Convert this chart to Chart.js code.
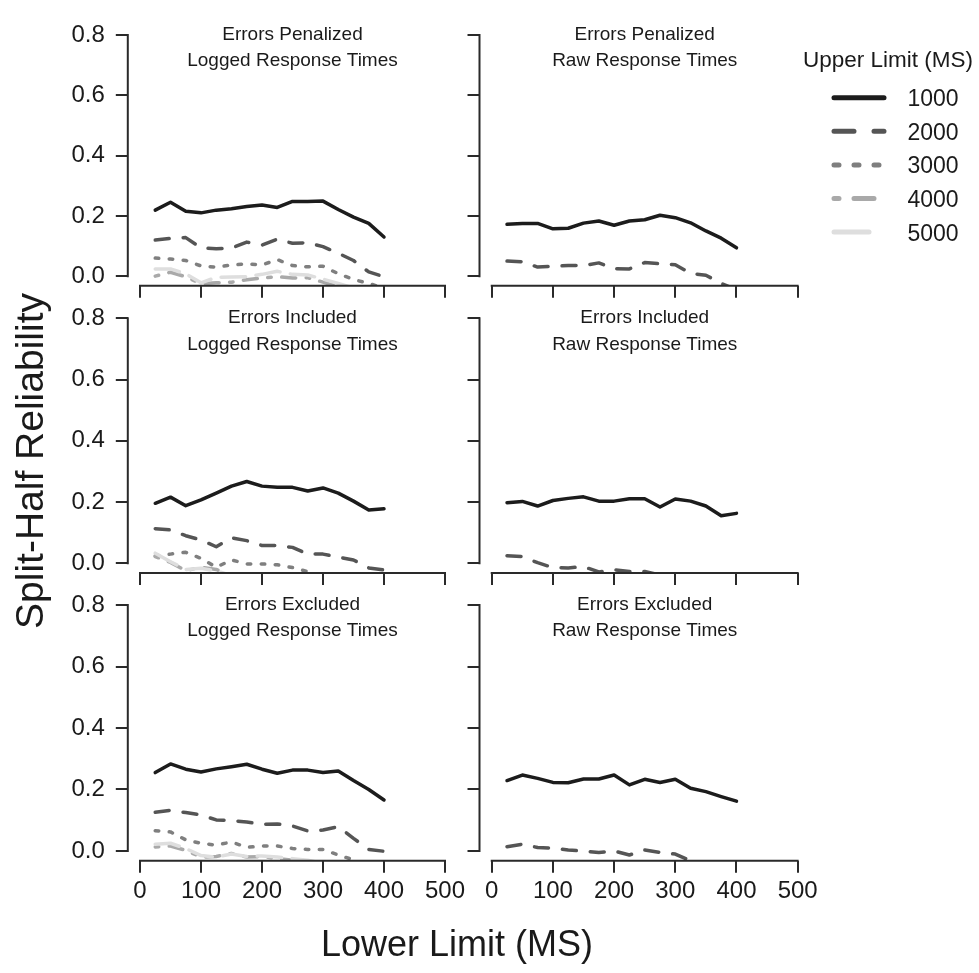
<!DOCTYPE html>
<html lang="en">
  <head>
    <meta charset="UTF-8" />
    <title>Split-Half Reliability by Lower and Upper Limit</title>
    <script src="https://cdn.jsdelivr.net/npm/chart.js@4.4.1/dist/chart.umd.min.js"></script>
    <style>
      html,
      body {
        margin: 0;
        padding: 0;
        background: #fff;
      }
      #wrap {
        position: relative;
        width: 979px;
        height: 973px;
      }
      #wrap canvas {
        position: absolute;
        left: 0;
        top: 0;
      }
    </style>
  </head>
  <body>
    <div id="wrap"></div>

    <script>
      // lower limit (ms) of each point, same for every line
      const lowerLimits = [25, 50, 75, 100, 125, 150, 175, 200, 225, 250, 275, 300, 325, 350, 375, 400];
      const upperLimits = ["1000", "2000", "3000", "4000", "5000"];
      const xTicks = [0, 100, 200, 300, 400, 500];
      const yTicks = [0, 0.2, 0.4, 0.6, 0.8];
      const errorTitles = ["Errors Penalized", "Errors Included", "Errors Excluded"];
      const rtTitles = ["Logged Response Times", "Raw Response Times"];

      // one row per upper limit; null once the line has dropped out of the panel
      const penalizedLogged = [
        [0.219, 0.245, 0.215, 0.21, 0.219, 0.224, 0.231, 0.236, 0.228, 0.248, 0.248, 0.249, 0.221, 0.196, 0.175, 0.13],
        [0.12, 0.125, 0.128, 0.094, 0.091, 0.093, 0.113, 0.103, 0.123, 0.109, 0.111, 0.098, 0.076, 0.052, 0.014, -0.002],
        [0.06, 0.057, 0.052, 0.034, 0.03, 0.037, 0.041, 0.037, 0.055, 0.035, 0.031, 0.033, 0.008, -0.011, -0.024, -0.04],
        [0.0, 0.013, -0.002, -0.025, -0.022, -0.02, -0.012, -0.006, -0.002, -0.006, -0.005, -0.02, -0.035, -0.045, null, null],
        [0.024, 0.024, 0.008, -0.022, -0.004, -0.003, -0.002, 0.006, 0.016, 0.006, 0.004, -0.01, -0.024, -0.04, null, null],
      ];
      const penalizedRaw = [
        [0.172, 0.175, 0.175, 0.157, 0.159, 0.176, 0.183, 0.169, 0.183, 0.187, 0.202, 0.194, 0.177, 0.15, 0.126, 0.094],
        [0.05, 0.048, 0.03, 0.033, 0.035, 0.035, 0.044, 0.025, 0.024, 0.045, 0.041, 0.038, 0.009, 0.003, -0.024, -0.045],
      ];
      const includedLogged = [
        [0.196, 0.216, 0.188, 0.207, 0.229, 0.252, 0.267, 0.252, 0.248, 0.248, 0.236, 0.246, 0.229, 0.203, 0.174, 0.178],
        [0.113, 0.109, 0.09, 0.076, 0.054, 0.083, 0.074, 0.058, 0.058, 0.052, 0.03, 0.03, 0.02, 0.011, -0.015, -0.022],
        [0.024, 0.03, 0.036, 0.016, -0.013, 0.011, -0.002, -0.002, -0.005, -0.014, -0.027, -0.04, null, null, null, null],
        [0.022, 0.003, -0.024, -0.013, -0.02, -0.04, null, null, null, null, null, null, null, null, null, null],
        [0.033, 0.005, -0.02, -0.016, -0.025, -0.04, null, null, null, null, null, null, null, null, null, null],
      ];
      const includedRaw = [
        [0.198, 0.202, 0.187, 0.205, 0.212, 0.217, 0.203, 0.203, 0.211, 0.211, 0.184, 0.21, 0.203, 0.187, 0.155, 0.163],
        [0.025, 0.022, 0.002, -0.014, -0.015, -0.011, -0.028, -0.021, -0.027, -0.027, -0.038, null, null, null, null, null],
      ];
      const excludedLogged = [
        [0.255, 0.283, 0.266, 0.257, 0.267, 0.274, 0.282, 0.266, 0.253, 0.263, 0.263, 0.255, 0.26, 0.229, 0.2, 0.166],
        [0.126, 0.132, 0.125, 0.117, 0.101, 0.099, 0.094, 0.087, 0.088, 0.081, 0.065, 0.068, 0.079, 0.041, 0.005, -0.001],
        [0.066, 0.062, 0.036, 0.025, 0.019, 0.029, 0.012, 0.016, 0.016, 0.008, 0.005, 0.005, -0.013, -0.029, -0.045, null],
        [0.013, 0.016, 0.002, -0.02, -0.018, -0.008, -0.02, -0.018, -0.025, -0.03, -0.035, -0.04, null, null, null, null],
        [0.022, 0.025, 0.008, -0.015, -0.02, -0.01, -0.018, -0.016, -0.02, -0.025, -0.03, -0.04, null, null, null, null],
      ];
      const excludedRaw = [
        [0.229, 0.247, 0.236, 0.223, 0.222, 0.234, 0.234, 0.247, 0.215, 0.233, 0.223, 0.233, 0.204, 0.193, 0.177, 0.162],
        [0.014, 0.022, 0.011, 0.009, 0.003, 0.0, -0.005, 0.0, -0.013, 0.003, -0.005, -0.01, -0.032, -0.045, null, null],
      ];

      const panels = [
        [penalizedLogged, penalizedRaw],
        [includedLogged, includedRaw],
        [excludedLogged, excludedRaw],
      ];

      // look
      const FONT = "'Liberation Sans', Arial, Helvetica, sans-serif";
      const INK = "#1a1a1a";
      const AXIS = "#2a2a2a";
      const lineColors = ["#1c1c1c", "#555555", "#7f7f7f", "#a9a9a9", "#dedede"];
      const ltyUnits = [[], [4, 4], [1, 3], [1, 3, 4, 3], [7, 3]]; // R lty 1..5, in line widths
      const LW = 3.5;

      // plot regions in page pixels (R's region is 4% wider than the axis range)
      // YW / XH are the axis boxes; Chart.js clips tick labels to them
      const W = 979, H = 973, YW = 80, XH = 60;
      const colX = [[127.8, 457.2], [479.5, 809.9]];
      const rowY = [[20.9, 285.8], [308.5, 573.1], [595.2, 860.8]];

      const panelDecor = {
        id: "panelDecor",
        afterDraw(chart, args, opts) {
          const { ctx, chartArea, scales } = chart;
          ctx.save();
          ctx.strokeStyle = AXIS;
          ctx.lineWidth = 2;
          ctx.beginPath();
          ctx.moveTo(scales.x.getPixelForValue(xTicks[0]) - 1, chartArea.bottom);
          ctx.lineTo(scales.x.getPixelForValue(xTicks[xTicks.length - 1]) + 1, chartArea.bottom);
          ctx.moveTo(chartArea.left, scales.y.getPixelForValue(yTicks[0]) + 1);
          ctx.lineTo(chartArea.left, scales.y.getPixelForValue(yTicks[yTicks.length - 1]) - 1);
          ctx.stroke();

          ctx.fillStyle = INK;
          ctx.font = "19px " + FONT;
          ctx.textAlign = "center";
          const cx = (chartArea.left + chartArea.right) / 2;
          ctx.fillText(opts.lines[0], cx, chartArea.top + 14.5);
          ctx.fillText(opts.lines[1], cx, chartArea.top + 41);
          ctx.restore();
        },
      };

      // outer axis titles and the legend, drawn once on the first chart
      const figureText = {
        id: "figureText",
        afterDraw(chart) {
          const ctx = chart.ctx;
          ctx.save();
          ctx.fillStyle = INK;
          ctx.textAlign = "center";
          ctx.font = "36px " + FONT;
          ctx.fillText("Lower Limit (MS)", 457, 956);
          ctx.translate(43, 461);
          ctx.rotate(-Math.PI / 2);
          ctx.font = "39px " + FONT;
          ctx.fillText("Split-Half Reliability", 0, 0);
          ctx.restore();

          ctx.save();
          ctx.fillStyle = INK;
          ctx.textAlign = "left";
          ctx.font = "22.5px " + FONT;
          ctx.fillText("Upper Limit (MS)", 803, 67);
          ctx.font = "23px " + FONT;
          chart.data.datasets.forEach((ds, i) => {
            const y = 97.7 + i * 33.6;
            ctx.strokeStyle = ds.borderColor;
            ctx.lineWidth = 5;
            ctx.lineCap = "round";
            ctx.setLineDash(ltyUnits[i].map((u) => u * 5));
            ctx.beginPath();
            ctx.moveTo(834, y);
            ctx.lineTo(884, y);
            ctx.stroke();
            ctx.setLineDash([]);
            ctx.fillText(ds.label, 907.5, y + 8.5);
          });
          ctx.restore();
        },
      };

      const wrap = document.getElementById("wrap");

      panels.forEach((row, r) => {
        row.forEach((series, c) => {
          const canvas = document.createElement("canvas");
          canvas.width = W;
          canvas.height = H;
          wrap.appendChild(canvas);

          const [left, right] = colX[c];
          const [top, bottom] = rowY[r];
          const showX = r === panels.length - 1;
          const showY = c === 0;

          new Chart(canvas, {
            type: "line",
            data: {
              datasets: series.map((vals, i) => ({
                label: upperLimits[i],
                data: lowerLimits.map((x, j) => ({ x: x, y: vals[j] })),
                borderColor: lineColors[i],
                borderWidth: LW,
                borderDash: ltyUnits[i].map((u) => u * LW),
                borderCapStyle: "round",
                borderJoinStyle: "round",
                pointRadius: 0,
                fill: false,
                tension: 0,
                clip: 0,
                order: -i,
              })),
            },
            options: {
              responsive: false,
              animation: false,
              devicePixelRatio: 1,
              events: [],
              layout: {
                padding: { left: left - YW, top: top, right: W - right, bottom: H - bottom - XH },
              },
              plugins: {
                legend: { display: false },
                tooltip: { enabled: false },
                panelDecor: { lines: [errorTitles[r], rtTitles[c]] },
              },
              scales: {
                x: {
                  type: "linear",
                  min: -20,
                  max: 520,
                  afterBuildTicks: (s) => {
                    s.ticks = xTicks.map((v) => ({ value: v }));
                  },
                  afterFit: (s) => {
                    s.height = XH;
                  },
                  ticks: {
                    autoSkip: false,
                    maxRotation: 0,
                    padding: 4,
                    color: INK,
                    font: { family: FONT, size: 24 },
                    callback: (v) => (showX ? String(v) : ""),
                  },
                  grid: { drawOnChartArea: false, tickLength: 12, color: AXIS, lineWidth: 2 },
                  border: { display: false },
                },
                y: {
                  type: "linear",
                  min: -0.032,
                  max: 0.832,
                  afterBuildTicks: (s) => {
                    s.ticks = yTicks.map((v) => ({ value: v }));
                  },
                  afterFit: (s) => {
                    s.width = YW;
                  },
                  ticks: {
                    autoSkip: false,
                    padding: 11,
                    color: INK,
                    font: { family: FONT, size: 24 },
                    callback: (v) => (showY ? v.toFixed(1) : ""),
                  },
                  grid: { drawOnChartArea: false, tickLength: 12, color: AXIS, lineWidth: 2 },
                  border: { display: false },
                },
              },
            },
            plugins: r === 0 && c === 0 ? [panelDecor, figureText] : [panelDecor],
          });
        });
      });
    </script>
  </body>
</html>
